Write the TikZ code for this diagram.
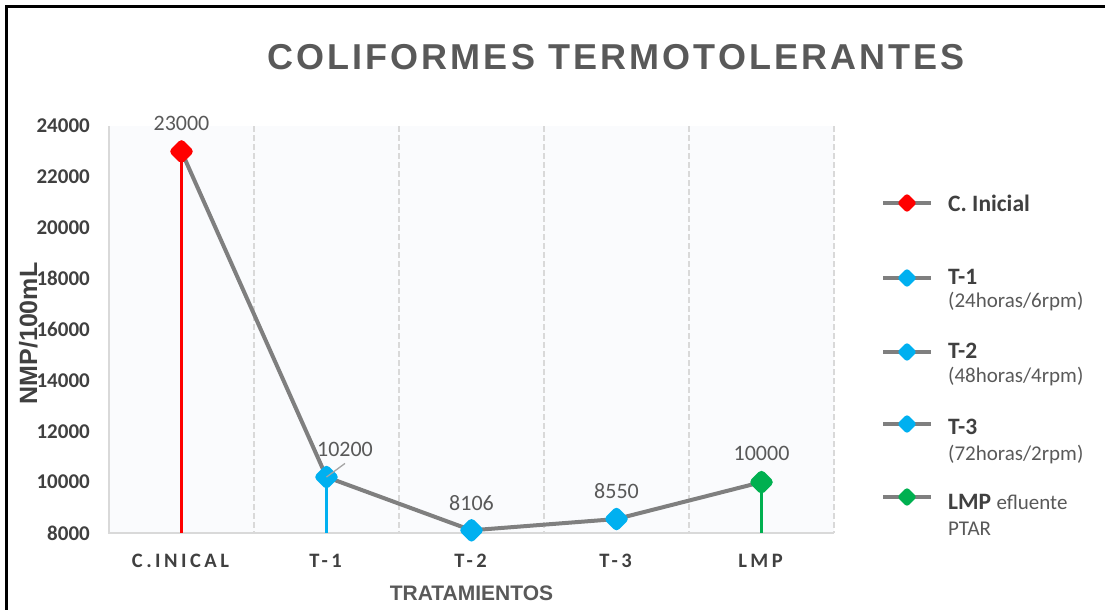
\documentclass[tikz,border=0pt]{standalone}
\usepackage{fontspec}
\setmainfont{Carlito}
\newfontfamily\arialfont{Liberation Sans}
\newfontfamily\titlefont[LetterSpace=8.6]{Liberation Sans}
\newfontfamily\catfont[LetterSpace=17]{Carlito}
\usetikzlibrary{shapes.geometric,backgrounds}

\definecolor{txtdark}{HTML}{404040}
\definecolor{txtgray}{HTML}{595959}
\definecolor{serie}{HTML}{7F7F7F}
\definecolor{gridc}{HTML}{D9D9D9}
\definecolor{plotbg}{RGB}{250,251,253}
\definecolor{cinicial}{HTML}{FF0000}
\definecolor{tcyan}{HTML}{00B0F0}
\definecolor{lmpgreen}{HTML}{00B050}

% valor en miles -> posicion vertical
\newcommand\yval[1]{533-(#1-8)*25.4375}

\tikzset{
  punto/.style={diamond,fill=#1,inner sep=0pt,minimum width=26pt,minimum height=26pt,rounded corners=4pt},
  legpunto/.style={diamond,fill=#1,inner sep=0pt,minimum width=20pt,minimum height=20pt,rounded corners=3pt},
  serieline/.style={serie,line width=4pt},
  caida/.style={#1,line width=3pt},
  gridline/.style={gridc,line width=1.5pt,dash pattern=on 6pt off 3pt},
  axisline/.style={gridc,line width=2pt},
  ytick/.style={anchor=east,inner sep=0pt,text=txtdark,font=\fontsize{21}{24}\selectfont\bfseries},
  dato/.style={inner sep=0pt,text=txtgray,font=\fontsize{22}{24}\selectfont},
  catlbl/.style={anchor=base,inner sep=0pt,xshift=-1pt,text=txtdark,font=\catfont\fontsize{20.5}{22}\selectfont\bfseries},
  legtit/.style={anchor=base west,inner sep=0pt,text=txtdark,font=\fontsize{23.5}{26}\selectfont\bfseries},
  legsub/.style={anchor=base west,inner sep=0pt,text=txtgray,font=\fontsize{21}{24}\selectfont},
  leader/.style={serie!70,line width=1.3pt}
}

\begin{document}
\begin{tikzpicture}[x=1pt,y=-1pt]
\useasboundingbox (0,0) rectangle (1105,610);
\draw[black,line width=2.5pt] (6.5,615) -- (6.5,6.5) -- (1110,6.5);

% titulo
\node[anchor=base,inner sep=0pt,text=txtgray,font=\titlefont\fontsize{36}{40}\selectfont\bfseries]
  (titulo) at (616,70) {COLIFORMES TERMOTOLERANTES};

% eje y
\foreach \k in {8,10,...,24}
  \node[ytick] (y\k) at (90,{\yval{\k}}) {\k000};
\node[rotate=90,anchor=base,inner sep=0pt,text=txtdark,font=\arialfont\fontsize{25}{28}\selectfont\bfseries]
  (ytit) at (37,333.5) {NMP/100mL};

% categorias
\foreach \lab [count=\i] in {C.INICAL,T-1,T-2,T-3,LMP}
  \node[catlbl] (cat\i) at ({36.5+145*\i},567) {\lab};
\node[anchor=base,inner sep=0pt,text=txtgray,font=\arialfont\fontsize{21}{24}\selectfont\bfseries]
  (xtit) at (471.5,600) {TRATAMIENTOS};

% puntos
\coordinate (base) at (0,533);
\node[punto=cinicial] (p1) at (181.5,{\yval{23}}) {};
\node[punto=tcyan]    (p2) at (326.5,{\yval{10.2}}) {};
\node[punto=tcyan]    (p3) at (471.5,{\yval{8.106}}) {};
\node[punto=tcyan]    (p4) at (616.5,{\yval{8.55}}) {};
\node[punto=lmpgreen] (p5) at (761.5,{\yval{10}}) {};

\node[dato] (d1) at (181.5,123) {23000};
\node[dato] (d2) at (345,449) {10200};
\node[dato] (d3) at (471.5,503) {8106};
\node[dato] (d4) at (616.5,491) {8550};
\node[dato] (d5) at (761.5,453) {10000};
\draw[leader] ([yshift=-7pt]d2.south) -- (p2.center);

% leyenda
\foreach \yy/\col [count=\i] in {203/cinicial,278/tcyan,352/tcyan,424/tcyan,497/lmpgreen}
  \node[legpunto=\col] (lm\i) at (907,\yy) {};
\node[legtit] (lt1) at (948,211) {C. Inicial};
\node[legtit] (lt2) at (948,284) {T-1};
\node[legsub] (ls2) at (948,307) {(24horas/6rpm)};
\node[legtit] (lt3) at (948,358) {T-2};
\node[legsub] (ls3) at (948,382) {(48horas/4rpm)};
\node[legtit] (lt4) at (948,434) {T-3};
\node[legsub] (ls4) at (948,460) {(72horas/2rpm)};
\node[legtit] (lt5) at (948,509) {LMP {\mdseries\fontsize{21}{24}\selectfont\color{txtgray}efluente}};
\node[legsub] (ls5) at (948,535) {PTAR};

\begin{scope}[on background layer]
  \fill[plotbg] (109,126) rectangle (834,533);
  \foreach \i in {1,...,5}
    \draw[gridline] ({109+145*\i},126) -- ({109+145*\i},533);
  \draw[axisline] (109,126) -- (109,533) -- (834,533);
  \draw[caida=cinicial] (p1.center) -- (p1 |- base);
  \draw[caida=tcyan] (p2.center) -- (p2 |- base);
  \draw[caida=lmpgreen] (p5.center) -- (p5 |- base);
  \draw[serieline] (p1.center) -- (p2.center) -- (p3.center) -- (p4.center) -- (p5.center);
  \foreach \i in {1,...,5}
    \draw[serieline] ([xshift=-24pt]lm\i.center) -- ([xshift=24pt]lm\i.center);
\end{scope}
\end{tikzpicture}
\end{document}
